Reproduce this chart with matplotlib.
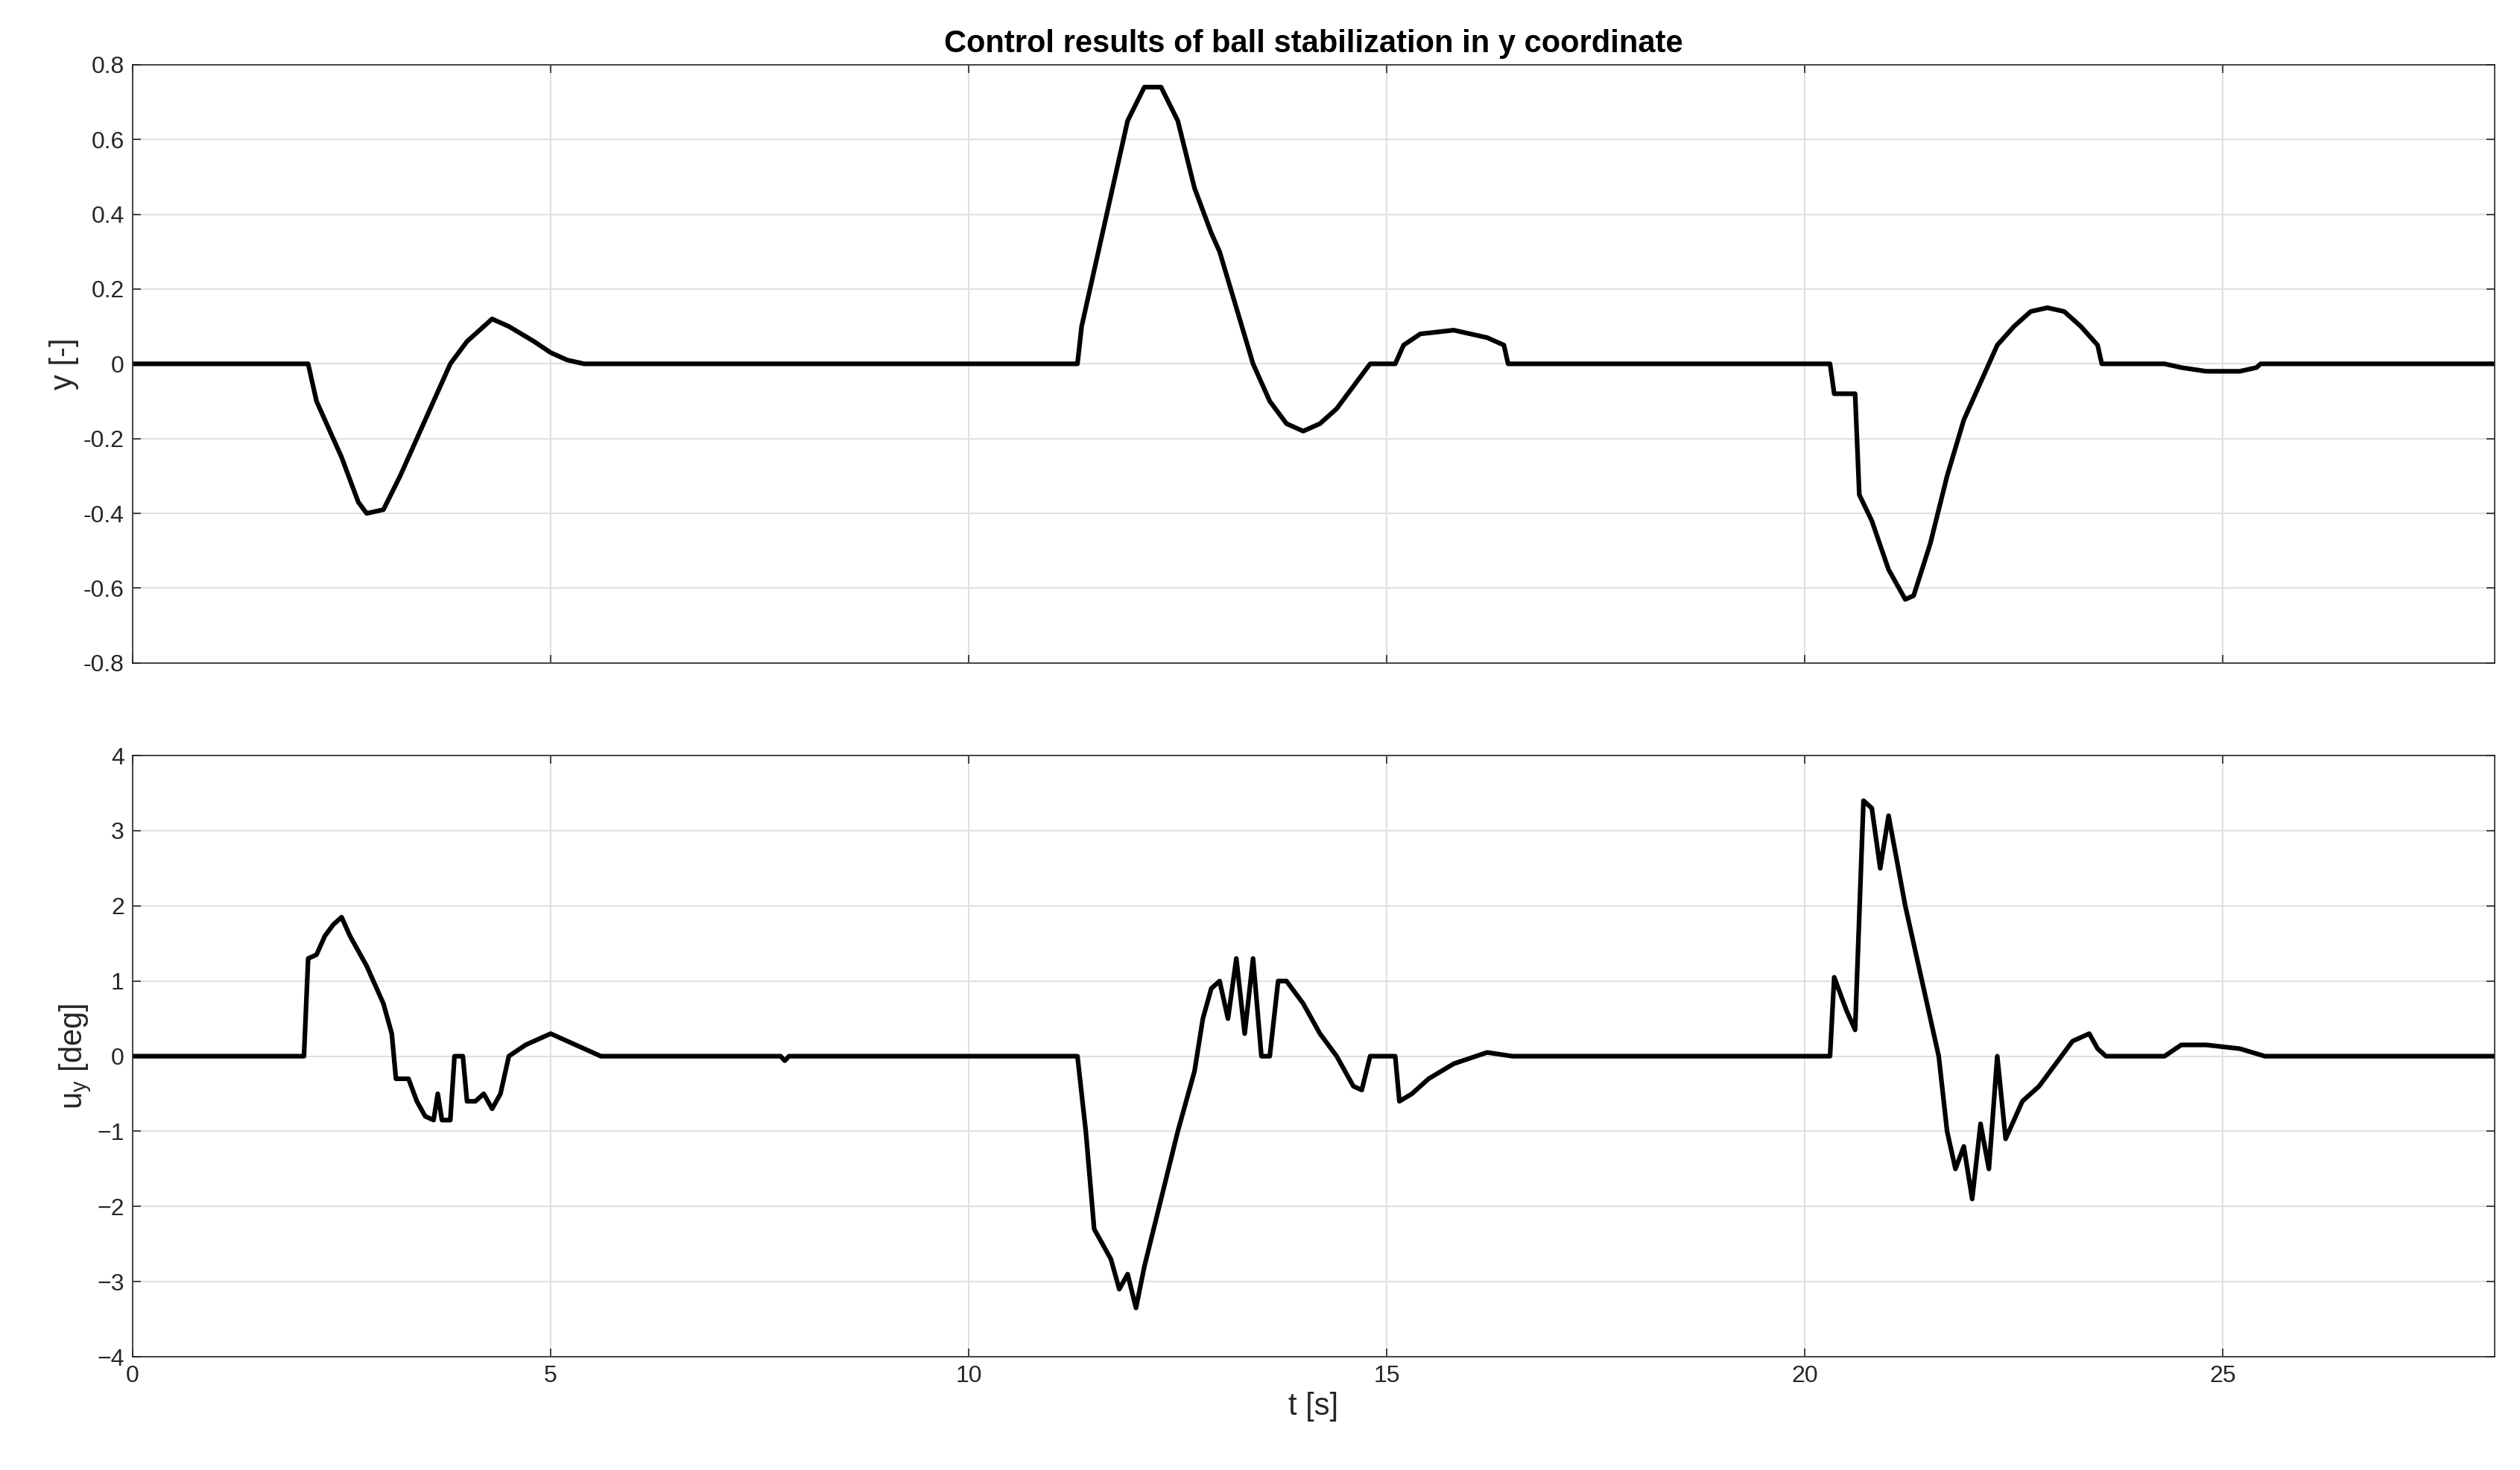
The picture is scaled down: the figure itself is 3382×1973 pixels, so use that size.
import matplotlib
matplotlib.use("Agg")
import matplotlib.pyplot as plt

t_y = [0, 2.1, 2.2, 2.3, 2.5, 2.7, 2.8, 3.0, 3.2, 3.4, 3.6, 3.8, 4.0, 4.2, 4.3, 4.5, 4.8, 5.0, 5.2, 5.4, 5.6,
       11.3, 11.35, 11.5, 11.7, 11.9, 12.1, 12.3, 12.5, 12.7, 12.9, 13.0, 13.2, 13.4, 13.6, 13.8, 14.0, 14.2,
       14.4, 14.6, 14.8, 15.0, 15.1, 15.2, 15.4, 15.8, 16.2, 16.4, 16.45, 20.3, 20.35, 20.6, 20.65, 20.8,
       21.0, 21.2, 21.3, 21.5, 21.7, 21.9, 22.1, 22.3, 22.5, 22.7, 22.9, 23.1, 23.3, 23.5, 23.55, 24.3,
       24.5, 24.8, 25.2, 25.4, 25.45, 28.25]
y_vals = [0, 0, -0.1, -0.15, -0.25, -0.37, -0.4, -0.39, -0.3, -0.2, -0.1, 0, 0.06, 0.1, 0.12, 0.1, 0.06, 0.03,
          0.01, 0, 0,
          0, 0.1, 0.25, 0.45, 0.65, 0.74, 0.74, 0.65, 0.47, 0.35, 0.3, 0.15, 0, -0.1, -0.16, -0.18, -0.16,
          -0.12, -0.06, 0, 0, 0, 0.05, 0.08, 0.09, 0.07, 0.05, 0, 0, -0.08, -0.08, -0.35, -0.42,
          -0.55, -0.63, -0.62, -0.48, -0.3, -0.15, -0.05, 0.05, 0.1, 0.14, 0.15, 0.14, 0.1, 0.05, 0, 0,
          -0.01, -0.02, -0.02, -0.01, 0, 0]

t_u = [0, 2.05, 2.1, 2.2, 2.3, 2.4, 2.5, 2.6, 2.8, 3.0, 3.1, 3.15, 3.3, 3.4, 3.5, 3.6, 3.65, 3.7, 3.8, 3.85,
       3.95, 4.0, 4.1, 4.2, 4.3, 4.4, 4.5, 4.7, 4.9, 5.0, 5.2, 5.4, 5.6, 7.75, 7.8, 7.85,
       11.3, 11.4, 11.5, 11.6, 11.7, 11.8, 11.9, 12.0, 12.1, 12.3, 12.5, 12.7, 12.8, 12.9, 13.0, 13.1, 13.2,
       13.3, 13.4, 13.5, 13.6, 13.7, 13.8, 14.0, 14.2, 14.4, 14.6, 14.7, 14.8, 15.1, 15.15, 15.3, 15.5,
       15.8, 16.2, 16.5, 20.3, 20.35, 20.5, 20.6, 20.7, 20.8, 20.9, 21.0, 21.2, 21.4, 21.6, 21.7, 21.8,
       21.9, 22.0, 22.1, 22.2, 22.3, 22.4, 22.6, 22.8, 23.0, 23.2, 23.4, 23.5, 23.6, 24.3, 24.5, 24.8,
       25.2, 25.5, 28.25]
u_vals = [0, 0, 1.3, 1.35, 1.6, 1.75, 1.85, 1.6, 1.2, 0.7, 0.3, -0.3, -0.3, -0.6, -0.8, -0.85, -0.5, -0.85,
          -0.85, 0, 0, -0.6, -0.6, -0.5, -0.7, -0.5, 0, 0.15, 0.25, 0.3, 0.2, 0.1, 0, 0, -0.06, 0,
          0, -1.0, -2.3, -2.5, -2.7, -3.1, -2.9, -3.35, -2.8, -1.9, -1.0, -0.2, 0.5, 0.9, 1.0, 0.5, 1.3,
          0.3, 1.3, 0.0, 0.0, 1.0, 1.0, 0.7, 0.3, 0, -0.4, -0.45, 0, 0, -0.6, -0.5, -0.3,
          -0.1, 0.05, 0, 0, 1.05, 0.6, 0.35, 3.4, 3.3, 2.5, 3.2, 2.0, 1.0, 0, -1.0, -1.5,
          -1.2, -1.9, -0.9, -1.5, 0, -1.1, -0.6, -0.4, -0.1, 0.2, 0.3, 0.1, 0, 0, 0.15, 0.15,
          0.1, 0, 0]

plt.rcParams['font.family'] = ['Liberation Sans', 'DejaVu Sans']
fig = plt.figure(figsize=(33.82, 19.73), dpi=100)
ax1 = fig.add_axes([0.0526, 0.549, 0.9374, 0.407])
ax2 = fig.add_axes([0.0526, 0.077, 0.9374, 0.409])

for ax in (ax1, ax2):
    ax.set_xlim(0, 28.25)
    ax.set_xticks([0, 5, 10, 15, 20, 25])
    ax.grid(True, color='#e0e0e0', linewidth=1.5)
    ax.tick_params(labelsize=23, colors='#262626', length=8, width=1.2, direction='in', top=True, right=True, pad=8)
    for s in ax.spines.values():
        s.set_color('#262626'); s.set_linewidth(1.2)

ax1.plot(t_y, y_vals, color='black', linewidth=4.5)
ax1.set_ylim(-0.8, 0.8)
ax1.set_yticks([-0.8, -0.6, -0.4, -0.2, 0, 0.2, 0.4, 0.6, 0.8])
ax1.set_yticklabels(['-0.8', '-0.6', '-0.4', '-0.2', '0', '0.2', '0.4', '0.6', '0.8'])
ax1.set_xticklabels([])
ax1.set_ylabel('y [-]', fontsize=30, color='#262626')
ax1.set_title('Control results of ball stabilization in y coordinate', fontsize=30, fontweight='bold', pad=12)

ax2.plot(t_u, u_vals, color='black', linewidth=4.5)
ax2.set_ylim(-4, 4)
ax2.set_yticks(range(-4, 5))
ax2.set_ylabel('u$_\\mathregular{y}$ [deg]', fontsize=30, color='#262626')
ax2.set_xlabel('t [s]', fontsize=30, color='#262626')

fig.savefig('out.png', dpi=100)
